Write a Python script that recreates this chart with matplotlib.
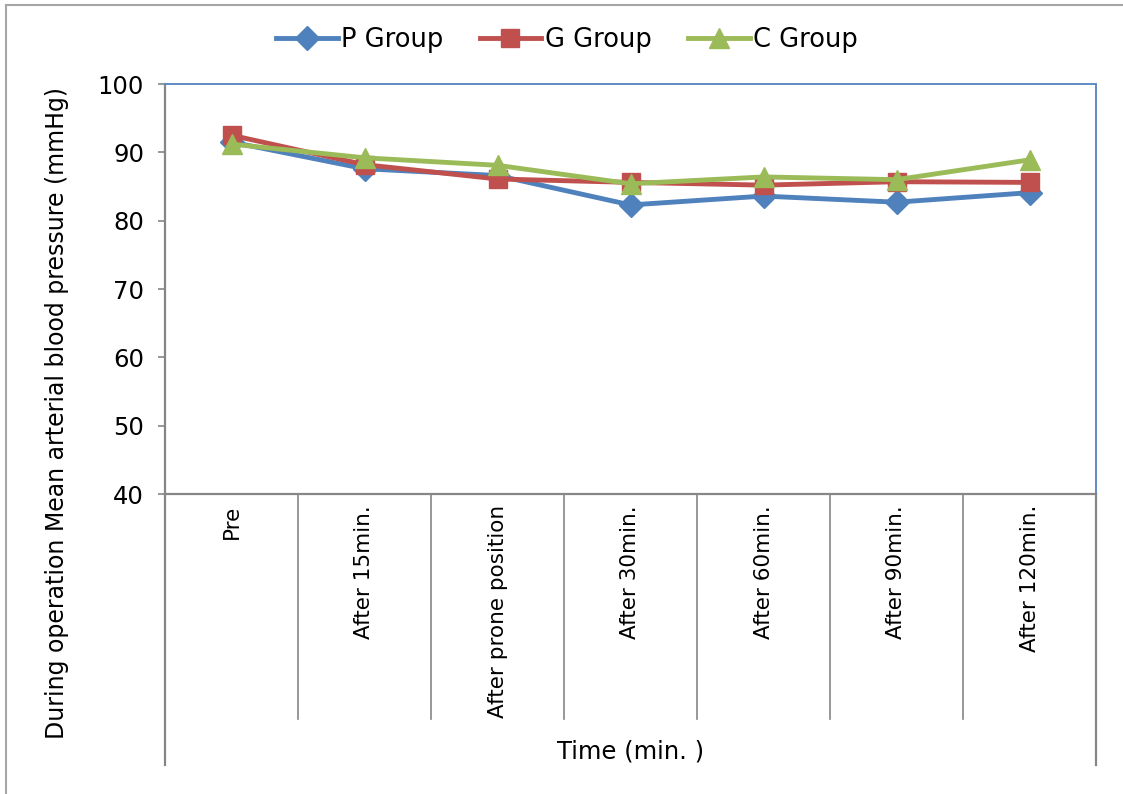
import matplotlib
matplotlib.use("Agg")
import matplotlib.pyplot as plt
from matplotlib.lines import Line2D

# Mean arterial blood pressure (mmHg) during operation
categories = ["Pre", "After 15min.", "After prone position", "After 30min.",
              "After 60min.", "After 90min.", "After 120min."]
p_group = [91.5, 87.6, 86.6, 82.3, 83.6, 82.7, 84.1]
g_group = [92.5, 88.2, 86.1, 85.6, 85.2, 85.7, 85.6]
c_group = [91.2, 89.2, 88.1, 85.4, 86.4, 86.0, 88.9]
series_names = ["P Group", "G Group", "C Group"]
y_ticks = [40, 50, 60, 70, 80, 90, 100]

W, H = 1123, 794
fig = plt.figure(figsize=(W / 100, H / 100), dpi=100)
plt.rcParams['font.family'] = ['DejaVu Sans']

# outer chart border (top and left edges)
border = "#a6a6a6"
fig.add_artist(Line2D([6 / W, 6 / W], [0, 1 - 5 / H], color=border, lw=1.5,
                      transform=fig.transFigure))
fig.add_artist(Line2D([6 / W, 1], [1 - 5 / H, 1 - 5 / H], color=border, lw=1.5,
                      transform=fig.transFigure))

left, right, top, bottom = 165, 1096, 84, 494
ax = fig.add_axes([left / W, 1 - bottom / H, (right - left) / W, (bottom - top) / H])

x = list(range(len(categories)))
styles = [
    (p_group, "#4F81BD", "D", 12.5),
    (g_group, "#C0504D", "s", 13),
    (c_group, "#9BBB59", "^", 14.5),
]
for (vals, col, mk, ms), name in zip(styles, series_names):
    ax.plot(x, vals, color=col, lw=3.5, marker=mk, ms=ms, mfc=col, mec=col,
            label=name, zorder=3)

ax.set_xlim(-0.5, len(categories) - 0.5)
ax.set_ylim(40, 100)
ax.set_yticks(y_ticks)
ax.set_yticklabels([str(t) for t in y_ticks], fontsize=17.5)
ax.tick_params(axis="y", direction="out", length=5, width=1.2, color="#868686", pad=10)
ax.set_xticks([])

gray = "#868686"
for s in ("left", "bottom"):
    ax.spines[s].set_color(gray)
    ax.spines[s].set_linewidth(1.6)
for s in ("top", "right"):
    ax.spines[s].set_color("#5f8bc4")
    ax.spines[s].set_linewidth(1.4)

# category axis: separators and rotated labels
trans = ax.get_xaxis_transform()
h_axes = bottom - top
inner_depth = -(719 - bottom) / h_axes
outer_depth = -(765 - bottom) / h_axes
for i in range(1, len(categories)):
    ax.plot([i - 0.5, i - 0.5], [0, inner_depth], color=gray, lw=1.2,
            transform=trans, clip_on=False)
for xe in (-0.5, len(categories) - 0.5):
    ax.plot([xe, xe], [0, outer_depth], color=gray, lw=1.6,
            transform=trans, clip_on=False)
for i, lab in enumerate(categories):
    ax.text(i, -(505 - bottom) / h_axes, lab, rotation=90, ha="center", va="top",
            fontsize=15.5, transform=trans)

ax.text(3, -(752 - bottom) / h_axes, "Time (min. )", ha="center", va="center",
        fontsize=17.5, transform=trans)

fig.text(57 / W, 1 - 413 / H,
         "During operation Mean arterial blood pressure (mmHg)",
         rotation=90, ha="center", va="center", fontsize=17)

fig.legend(loc="center", bbox_to_anchor=(567 / W, 1 - 40 / H), ncol=3,
           frameon=False, fontsize=18.5, handlelength=2.4, handletextpad=0.15,
           columnspacing=1.4)

fig.savefig("out.png", dpi=100)
